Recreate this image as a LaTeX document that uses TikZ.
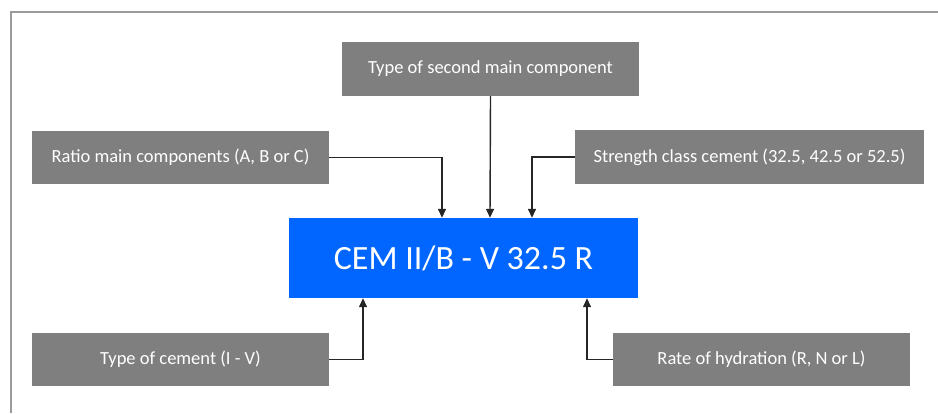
\documentclass[tikz,border=0pt]{standalone}
\usepackage{fontspec}
\setmainfont{Carlito}
\usetikzlibrary{arrows.meta}
\definecolor{boxgray}{HTML}{7F7F7F}
\definecolor{cemblue}{HTML}{0066FF}
\definecolor{framegray}{HTML}{9A9A9A}
\begin{document}
\begin{tikzpicture}[x=1pt,y=-1pt,
  part/.style={fill=boxgray,text=white,font=\fontsize{18.5}{20}\selectfont,
    inner sep=0pt,minimum height=53pt},
  pointer/.style={draw=black!85,line width=1.4pt,-{Triangle[length=9pt,width=8pt]}}]
 \useasboundingbox (0,0) rectangle (938,413);
 \draw[framegray,line width=2pt](11,413)--(11,12)--(938,12);
 % code and its parts
 \node[fill=cemblue,text=white,font=\fontsize{34}{38}\selectfont,inner sep=0pt,
   minimum width=349pt,minimum height=80pt] (cem) at (463.5,258) {CEM II/B - V 32.5 R};
 \node[part,minimum width=297pt,minimum height=54pt] (second) at (490.5,69) {Type of second main component};
 \node[part,minimum width=297pt] (ratio) at (180.5,157.5) {Ratio main components (A, B or C)};
 \node[part,minimum width=349pt,minimum height=54pt] (strength) at (749.5,157) {Strength class cement (32.5, 42.5 or 52.5)};
 \node[part,minimum width=297pt] (type) at (180.5,359.5) {Type of cement (I - V)};
 \node[part,minimum width=297pt] (rate) at (761.5,359.5) {Rate of hydration (R, N or L)};
 % connectors
 \draw[pointer](ratio.east) -| ([xshift=-21.5pt]cem.north);
 \draw[pointer](second.south) -- ([xshift=26.5pt]cem.north);
 \draw[pointer](strength.west) -| ([xshift=68.5pt]cem.north);
 \draw[pointer](type.east) -| ([xshift=-100.5pt]cem.south);
 \draw[pointer](rate.west) -| ([xshift=123.5pt]cem.south);
\end{tikzpicture}
\end{document}
